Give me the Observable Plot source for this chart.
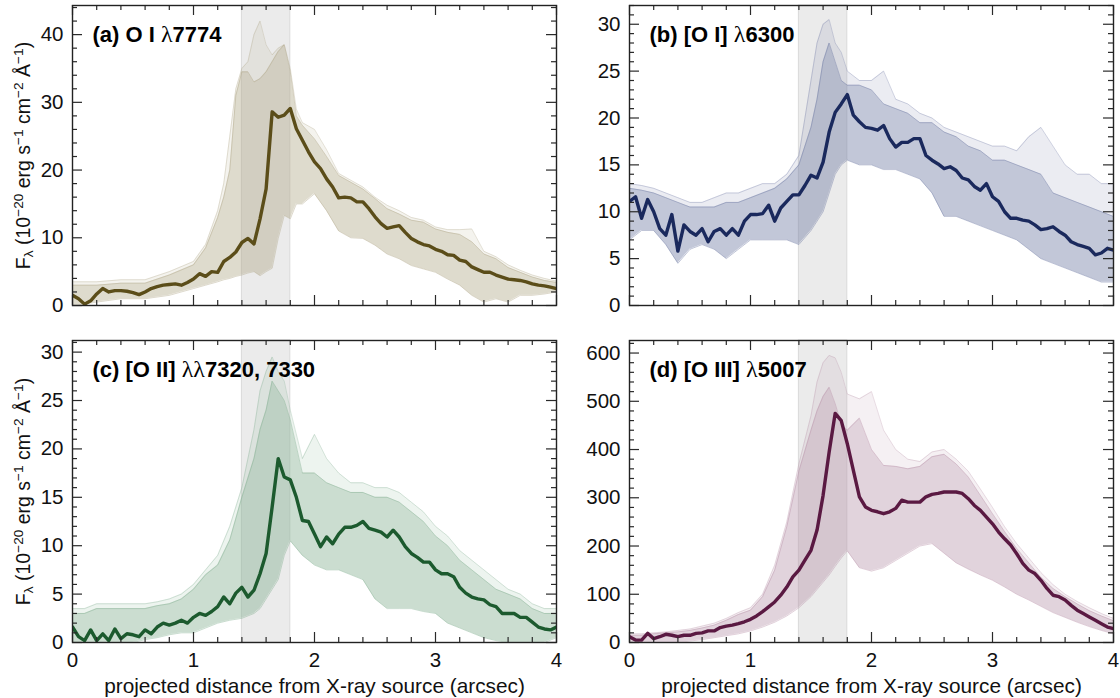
<!DOCTYPE html>
<html>
<head>
<meta charset="utf-8">
<script src="https://cdn.jsdelivr.net/npm/d3@7"></script>
<script src="https://cdn.jsdelivr.net/npm/@observablehq/plot@0.6"></script>
<style>
  body { margin: 0; background: #fff; }
  #wrap { position: relative; width: 1120px; height: 698px; overflow: hidden; background: #fff; }
  #wrap svg { position: absolute; overflow: visible; }
</style>
</head>
<body>
<div id="wrap"></div>
<script>
// ---------------- data ----------------
const distance = [0,0.05,0.1,0.15,0.2,0.25,0.3,0.35,0.4,0.45,0.5,0.55,0.6,0.65,0.7,0.75,0.8,0.85,0.9,0.95,
  1,1.05,1.1,1.15,1.2,1.25,1.3,1.35,1.4,1.45,1.5,1.55,1.6,1.65,1.7,1.75,1.8,1.85,1.9,1.95,
  2,2.05,2.1,2.15,2.2,2.25,2.3,2.35,2.4,2.45,2.5,2.55,2.6,2.65,2.7,2.75,2.8,2.85,2.9,2.95,
  3,3.05,3.1,3.15,3.2,3.25,3.3,3.35,3.4,3.45,3.5,3.55,3.6,3.65,3.7,3.75,3.8,3.85,3.9,3.95,4];

const envDistance = [0,0.1,0.2,0.3,0.4,0.5,0.6,0.7,0.8,0.9,1,1.1,1.2,1.3,1.4,1.5,
  1.55,1.6,1.65,1.7,1.75,1.8,
  1.9,2,2.1,2.2,2.3,2.4,2.5,2.6,2.7,2.8,2.9,3,3.1,3.2,3.3,3.4,3.5,3.6,3.7,3.8,3.9,4];

const bandStart = 1.4, bandEnd = 1.8;

// (a) O I 7774
const medianA = [1.5,1.0,0.2,0.7,1.7,2.5,2.0,2.2,2.2,2.1, 1.9,1.6,2.0,2.5,2.8,3.0,3.1,3.2,3.0,3.4,
  3.9,4.7,4.3,5.0,4.9,6.5,7.1,7.9,9.3,9.9, 9.1,12.8,17.2,28.6,27.8,28.1,29.1,26.1,24.4,22.7,
  21.2,20.2,18.7,17.5,15.9,16.0,15.9,15.3,15.3,14.3, 13.1,12.1,11.4,11.6,11.8,10.8,9.9,9.4,9.0,8.8,
  8.3,8.0,7.5,7.4,6.7,6.5,5.7,5.3,4.9,4.9, 4.5,4.2,3.9,3.8,3.7,3.5,3.2,3.0,2.9,2.7, 2.5];
const envDistanceA = [0,0.2,0.4,0.6,0.8,1,1.1,1.2,1.25,1.3,1.35,1.4,1.45,1.5,1.55,1.6,1.65,1.7,1.75,1.8,1.85,1.9,
  2,2.1,2.2,2.3,2.4,2.5,2.6,2.7,2.8,2.9,3,3.1,3.2,3.3,3.4,3.5,3.6,3.7,3.8,3.9,4];
const hiA = [3,3,3.3,3.3,4.5,6,8.5,13,16,20,31,34.5,34.5,33,33.5,34.5,36,37.5,38.5,34.5,28,26.6,
  24.6,22,19.2,18.2,17.2,15.8,14.3,13.5,12.6,12.3,11.3,10.8,10.5,9.4,7.6,6.9,5.6,4.9,4.2,3.7,3.4];
const outerA = [3.5,3.5,3.8,3.8,5,6.5,9,14,18,25,32,35,36,40,42,38.5,37,38,38.5,35,29,27,
  26,23,19.5,18.5,17.5,16,14.8,14,13,12.6,11.6,11.2,11.2,11.3,8,7.2,6,5.2,4.5,4,3.6];
const loA = [0,0.5,1,1,1.5,2.5,3,3.5,3.8,4,4.3,4.5,4.8,5,4.4,5,5.5,9.9,13.3,12.8,15,15,
  16.5,14,11,10,9.9,8.9,7.6,6.9,5.9,5.4,4.9,3.9,3.0,1.5,0.5,1,0.5,1.5,1.5,1.7,2];

// (b) [O I] 6300
const medianB = [11.1,11.6,9.3,11.3,10.0,8.2,7.5,9.7,5.8,8.6, 7.9,7.5,8.2,6.8,7.9,8.2,7.5,8.2,7.5,9.0,
  9.7,9.7,9.8,10.7,9.0,10.4,11.1,11.8,11.8,12.8, 13.9,13.6,15.3,18.5,20.6,21.5,22.5,20.3,19.6,19.0,
  18.9,18.7,19.2,17.8,16.9,17.4,17.4,17.8,17.8,16.0, 15.5,15.1,14.6,14.8,14.4,13.6,13.4,12.7,12.3,13.0,
  11.6,11.1,10.0,9.3,9.3,9.1,9.0,8.6,8.1,8.2, 8.4,7.9,7.5,6.8,6.5,6.3,6.1,5.4,5.6,6.1, 5.9];
const hiB = [12.5,12.3,12,11.5,11,10.5,10.5,10.5,11,11,11.5,12,12.5,13.5,15,19,
  22,26,28,26,24,23.5,
  23.5,23,21.5,21,20.5,19.5,19.5,18.5,18,17,16.5,15.5,15.5,15,14.5,14,12,11.5,11,10.5,10,9.5];
const outerB = [13,12.8,12.5,12,11.5,11,11,11.5,12,12,12.5,13,13,14,16,24,
  28,30,30.5,28,27,25,
  24,24,25,22,21.5,20.5,20,19,18.5,18,17.5,17,17,16.5,18,19,17,15,14,14,13,13];
const loB = [7,8,8,6.5,4.5,6,6.5,6,5,6,7,7,7,7,6.5,8,
  9,10,12,14,15,15.5,
  15,15,14.5,14.5,14,13.5,12,9.5,9.5,9,8.5,8,7.5,7,6,5,4.5,4,3.5,3,2.5,2.5];

// (c) [O II] 7320, 7330
const medianC = [1.6,0.6,0.2,1.3,0.2,0.9,0.2,1.4,0.4,0.9, 0.8,0.6,1.3,0.9,1.6,2.0,1.8,2.0,2.3,2.0,
  2.6,3.0,2.8,3.2,3.7,4.7,4.0,5.1,5.7,4.7, 5.4,7.1,9.2,14.0,19.0,17.1,16.8,15.0,12.6,12.5,
  11.2,9.9,10.9,10.2,11.2,11.9,11.9,12.1,12.5,11.8, 11.6,11.4,10.9,11.6,10.9,9.9,9.2,8.8,8.3,8.3,
  7.5,7.1,7.1,6.8,5.7,5.1,4.7,4.5,4.4,3.9, 3.7,3.0,3.0,3.0,2.6,2.6,2.1,1.6,1.4,1.3, 1.6];
const hiC = [3,3,3.5,3.5,3.5,3.5,3.5,3.8,4,4.5,5.5,7,8,10.6,15,19,
  22,24,27,26,25,23,
  17.5,17.5,16.5,16,15.5,15.5,15,15,14.5,13.5,12.5,11,10,8.5,7.5,6.5,5.5,5,4.5,3.5,3,3];
const outerC = [3.5,3.5,4,4,4,4,4,4.2,4.5,5,6,7.5,9,12,16,22,
  26,28,29.5,28,27,24,
  19,21.5,19,17.5,16.5,16.5,16,16,15.5,14.5,13.5,12,11,9.5,8.5,7.5,6.5,5.5,5,4,3.5,3.5];
const loC = [0,0,0,0,0,0,0.3,0.5,0.8,1,1,1.5,2,2.3,2.5,3,
  3.5,4.5,5.5,6.5,9,10.5,
  9,8,7.5,7.5,7,6.5,4.5,3.5,3.5,3.5,3.2,3,2,1.5,1,0.5,0.2,0,0,0,0,0.5];

// (d) [O III] 5007
const medianD = [12,5,5,19,8,12,17,15,12,15, 15,19,20,24,24,31,34,36,39,43,
  48,55,64,74,84,98,115,136,150,171, 191,233,305,395,475,460,412,357,302,281,
  274,271,267,271,278,295,291,291,291,302, 307,309,312,312,312,309,298,284,274,260,
  246,229,215,202,184,164,150,143,129,112, 98,95,88,77,67,60,53,46,39,32, 29];
const hiD = [15,15,18,20,22,25,30,36,46,58,67,95,150,240,355,440,
  480,510,529,495,453,440,
  465,400,367,365,360,365,385,390,370,343,305,267,230,195,165,135,112,95,80,66,55,45];
const outerD = [18,18,20,22,25,28,34,40,50,62,72,100,160,250,370,470,
  540,580,595,590,560,515,
  505,520,440,400,380,375,395,400,380,355,318,280,240,205,175,145,120,100,85,72,60,50];
const loD = [0,0,0,0,0,3,6,10,14,18,24,32,42,55,72,95,
  110,125,140,158,175,190,
  155,148,155,170,185,200,205,185,165,152,140,129,115,100,88,75,62,52,42,33,25,18];

// ---------------- panels ----------------
const FONT = '"Liberation Sans", Arial, Helvetica, sans-serif';
const xlabel = "projected distance from X-ray source (arcsec)";
const ylabelKey = "__ylabel__";

const panels = [
  {title:"(a) O I λ7774", median:medianA, ex:envDistanceA, hi:hiA, outer:outerA, lo:loA, yMax:44.3,
   major:10, minor:2, line:"#5b4d19", fill:"#b0a889", left:0, top:0, col:0, row:0},
  {title:"(b) [O I] λ6300", median:medianB, ex:envDistance, hi:hiB, outer:outerB, lo:loB, yMax:32,
   major:5, minor:1, line:"#1a295d", fill:"#6e79a3", left:560, top:0, col:1, row:0},
  {title:"(c) [O II] λλ7320, 7330", median:medianC, ex:envDistance, hi:hiC, outer:outerC, lo:loC, yMax:31.2,
   major:5, minor:1, line:"#1c5a2e", fill:"#82ae90", left:0, top:335, col:0, row:1},
  {title:"(d) [O III] λ5007", median:medianD, ex:envDistance, hi:hiD, outer:outerD, lo:loD, yMax:626,
   major:100, minor:20, line:"#5a1942", fill:"#b994aa", left:560, top:335, col:1, row:1}
];

const wrap = document.getElementById("wrap");

for (const p of panels) {
  const lineData = distance.map((x, i) => ({x, y: p.median[i]}));
  const envData = p.ex.map((x, i) => ({x, lo: p.lo[i], hi: p.hi[i], outer: p.outer[i]}));
  const yMajor = d3.range(0, p.yMax + 1e-9, p.major);
  const yMinor = d3.range(0, p.yMax + 1e-9, p.minor).filter(v => Math.abs(v / p.major - Math.round(v / p.major)) > 1e-6);
  const xMajor = [0, 1, 2, 3, 4];
  const xMinor = d3.range(0, 4.0001, 0.2).filter(v => Math.abs(v - Math.round(v)) > 1e-6);

  const marginLeft = p.col === 0 ? 72 : 69;
  const plotW = 484;
  const width = 560;
  const marginRight = width - marginLeft - plotW;
  const marginTop = 5;
  const plotH = p.row === 0 ? 300 : 302;
  const marginBottom = p.row === 0 ? 8 : 56;
  const height = marginTop + plotH + marginBottom;

  const tk = {stroke: "#2a2a2a", strokeWidth: 1.2};
  const MAJ = 10, MIN = 5;
  const marks = [
    Plot.rectX([{a: bandStart, b: bandEnd}], {x1: "a", x2: "b", fill: "#ebebeb", stroke: "#dadada", strokeWidth: 1}),
    Plot.areaY(envData, {x: "x", y1: "lo", y2: "outer", fill: p.fill, fillOpacity: 0.14, clip: true}),
    Plot.areaY(envData, {x: "x", y1: "lo", y2: "hi", fill: p.fill, fillOpacity: 0.32, clip: true}),
    Plot.lineY(envData, {x: "x", y: "outer", stroke: p.fill, strokeOpacity: 0.4, strokeWidth: 0.8, clip: true}),
    Plot.lineY(envData, {x: "x", y: "hi", stroke: p.fill, strokeOpacity: 0.55, strokeWidth: 0.8, clip: true}),
    Plot.lineY(envData, {x: "x", y: "lo", stroke: p.fill, strokeOpacity: 0.55, strokeWidth: 0.8, clip: true}),
    Plot.lineY(lineData, {x: "x", y: "y", stroke: p.line, strokeWidth: 3.4, strokeLinejoin: "round", clip: true}),
    // inward ticks on all four sides (short rules via insets)
    Plot.ruleY(yMajor, {y: d => d, insetRight: plotW - MAJ, ...tk}),
    Plot.ruleY(yMinor, {y: d => d, insetRight: plotW - MIN, ...tk}),
    Plot.ruleY(yMajor, {y: d => d, insetLeft: plotW - MAJ, ...tk}),
    Plot.ruleY(yMinor, {y: d => d, insetLeft: plotW - MIN, ...tk}),
    Plot.ruleX(xMajor, {x: d => d, insetTop: plotH - MAJ, ...tk}),
    Plot.ruleX(xMinor, {x: d => d, insetTop: plotH - MIN, ...tk}),
    Plot.ruleX(xMajor, {x: d => d, insetBottom: plotH - MAJ, ...tk}),
    Plot.ruleX(xMinor, {x: d => d, insetBottom: plotH - MIN, ...tk}),
    Plot.frame({stroke: "#222", strokeWidth: 1.4}),
    // tick labels
    Plot.axisY(yMajor, {anchor: "left", tickSize: 0, tickPadding: 9, tickFormat: d3.format("d"), fontSize: 20.5, fill: "#111", label: null}),
    Plot.text([p.title], {frameAnchor: "top-left", dx: 20, dy: 29, text: d => d, textAnchor: "start", lineAnchor: "middle",
      fontSize: 22, fontWeight: "bold", fill: "#000"})
  ];
  if (p.row === 1) {
    marks.push(Plot.axisX(xMajor, {anchor: "bottom", tickSize: 0, tickPadding: 10, tickFormat: d3.format("d"), fontSize: 20.5, fill: "#111", label: null}));
    marks.push(Plot.text([xlabel], {frameAnchor: "bottom", dy: 44, text: d => d, lineAnchor: "middle", fontSize: 20.8, fill: "#111"}));
  }
  if (p.col === 0) {
    marks.push(Plot.text([ylabelKey], {frameAnchor: "left", dx: -49, rotate: -90, text: d => d, lineAnchor: "middle",
      textAnchor: "middle", fontSize: 19.5, fill: "#111"}));
  }

  const svg = Plot.plot({
    width, height, marginLeft, marginRight, marginTop, marginBottom,
    style: {fontFamily: FONT, background: "transparent", overflow: "visible"},
    x: {domain: [0, 4], axis: null},
    y: {domain: [0, p.yMax], axis: null},
    marks
  });
  svg.style.left = p.left + "px";
  svg.style.top = p.top + "px";
  wrap.appendChild(svg);

  const texts = d3.select(svg).selectAll("text");
  // y-axis label with sub/superscripts
  texts.filter(function() { return this.textContent === ylabelKey; }).each(function() {
    const yl = d3.select(this);
    yl.text(null);
    const parts = [["F", null], ["λ", "sub"], [" (10", null], ["−20", "sup"], [" erg s", null], ["−1", "sup"],
      [" cm", null], ["−2", "sup"], [" Å", null], ["−1", "sup"], [")", null]];
    for (const [t, k] of parts) {
      const ts = yl.append("tspan").text(t);
      if (k === "sub") ts.attr("font-size", "70%").attr("baseline-shift", "-0.25em");
      if (k === "sup") ts.attr("font-size", "70%").attr("baseline-shift", "0.55em");
    }
  });
  // lambda in the titles drawn in a light serif like the reference
  texts.filter(function() { return this.textContent === p.title; }).each(function() {
    const tt = d3.select(this);
    const s = tt.text();
    tt.text(null);
    for (const seg of s.split(/(λ+)/)) {
      if (!seg) continue;
      const ts = tt.append("tspan").text(seg);
      if (/^λ+$/.test(seg)) ts.attr("font-family", '"Liberation Serif", "DejaVu Serif", serif').attr("font-weight", "normal").attr("font-size", "24");
    }
  });
}
</script>
</body>
</html>
